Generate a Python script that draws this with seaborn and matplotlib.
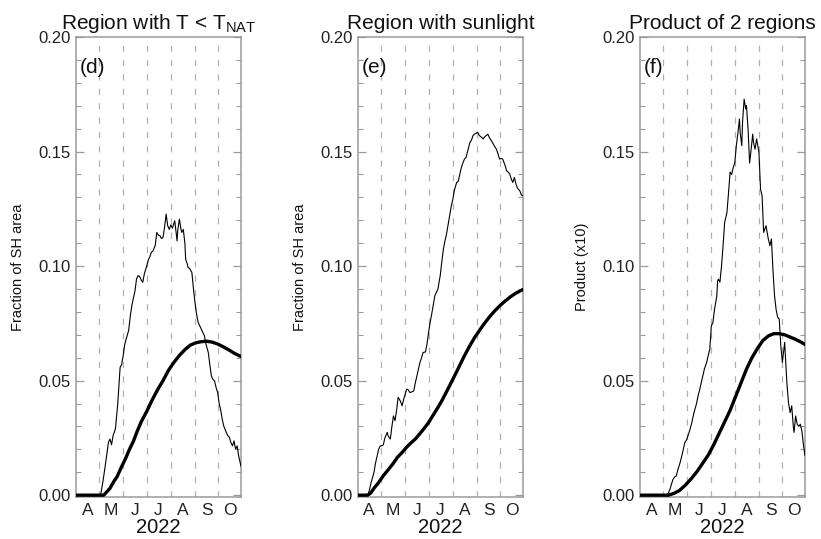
import numpy as np
import pandas as pd
import matplotlib
matplotlib.use("Agg")
import matplotlib.pyplot as plt
from matplotlib.ticker import MultipleLocator
import seaborn as sns

sns.set_theme(style="ticks")
plt.rcParams['font.family'] = ['Liberation Sans', 'DejaVu Sans']
plt.rcParams['mathtext.fontset'] = 'custom'
plt.rcParams['mathtext.rm'] = 'Liberation Sans'
plt.rcParams['mathtext.it'] = 'Liberation Sans'

# day of year (2022) for month boundaries and mid-month labels
month_starts = [121, 152, 182, 213, 244, 274]
month_mids = [106, 136, 167, 197, 228, 259, 289]
month_labels = ["A", "M", "J", "J", "A", "S", "O"]

# (d) region with T < T_NAT : daily 2022 (thin) and climatology (thick)
d_thin_day = [92, 100, 110, 120, 123, 126, 129, 131, 133, 135, 137, 139, 142, 145, 148, 150, 152, 154,
              157, 159, 161, 163, 165, 167, 169, 171, 173, 175, 177, 179, 182, 184, 186, 188, 190, 193,
              195, 197, 199, 201, 203, 205, 207, 209, 211, 213, 215, 218, 220, 221, 222, 224, 226, 227,
              229, 231, 232, 234, 235, 237, 240, 242, 244, 246, 248, 250, 252, 254, 256, 258, 261, 263,
              265, 267, 269, 271, 273, 275, 277, 279, 281, 284, 286, 288, 290, 292, 294, 296, 298, 300, 303]
d_thin = [0, 0, 0, 0, 0, 0.006, 0.013, 0.018, 0.023, 0.0245, 0.022, 0.026, 0.029, 0.040, 0.0558, 0.057,
          0.061, 0.066, 0.0696, 0.072, 0.078, 0.0827, 0.086, 0.089, 0.0943, 0.0958, 0.0955, 0.094, 0.0929,
          0.0965, 0.100, 0.1025, 0.104, 0.106, 0.1065, 0.109, 0.1147, 0.1135, 0.1133, 0.112, 0.1125, 0.117,
          0.1227, 0.1176, 0.116, 0.118, 0.1165, 0.1198, 0.114, 0.111, 0.116, 0.1205, 0.116, 0.1147, 0.116,
          0.110, 0.103, 0.101, 0.0994, 0.099, 0.0972, 0.090, 0.0841, 0.079, 0.0754, 0.074, 0.0725, 0.071,
          0.0696, 0.066, 0.0623, 0.057, 0.052, 0.0505, 0.0499, 0.047, 0.0448, 0.040, 0.037, 0.033, 0.030,
          0.0275, 0.026, 0.0253, 0.023, 0.0215, 0.0237, 0.020, 0.0215, 0.017, 0.0125]
d_clim_day = [92, 120, 127, 131, 135, 140, 144, 150, 155, 160, 165, 170, 175, 182, 189, 196, 203, 210,
              217, 224, 231, 238, 245, 252, 259, 266, 273, 280, 287, 294, 303]
d_clim = [0, 0, 0, 0.0015, 0.003, 0.006, 0.008, 0.0125, 0.016, 0.020, 0.0235, 0.028, 0.032, 0.0365,
          0.0415, 0.046, 0.050, 0.0545, 0.058, 0.061, 0.0635, 0.0655, 0.0665, 0.067, 0.0672, 0.0668,
          0.066, 0.0648, 0.0635, 0.062, 0.0605]

# (e) region with sunlight
e_thin_day = [92, 100, 104, 106, 108, 112, 114, 116, 118, 120, 122, 124, 126, 129, 130, 133, 135, 137,
              139, 141, 143, 146, 148, 151, 154, 156, 158, 160, 163, 165, 167, 169, 171, 173, 175, 178,
              180, 182, 184, 186, 188, 190, 192, 194, 197, 199, 201, 203, 205, 207, 209, 211, 213, 215,
              218, 220, 222, 224, 226, 228, 230, 232, 235, 237, 239, 241, 243, 245, 247, 250, 252, 254,
              256, 258, 260, 262, 265, 267, 269, 271, 273, 275, 277, 280, 282, 284, 286, 288, 290, 292,
              294, 296, 299, 301, 303]
e_thin = [0, 0, 0, 0.002, 0.005, 0.0099, 0.014, 0.017, 0.020, 0.0215, 0.0215, 0.022, 0.025, 0.0274,
          0.026, 0.0245, 0.030, 0.0346, 0.0325, 0.037, 0.0427, 0.041, 0.039, 0.043, 0.0463, 0.046,
          0.0448, 0.045, 0.0455, 0.049, 0.052, 0.055, 0.058, 0.060, 0.0623, 0.0625, 0.066, 0.071, 0.0754,
          0.079, 0.083, 0.087, 0.0885, 0.090, 0.096, 0.102, 0.1074, 0.111, 0.114, 0.118, 0.122, 0.126,
          0.129, 0.133, 0.1365, 0.137, 0.140, 0.143, 0.145, 0.1467, 0.1474, 0.150, 0.154, 0.155, 0.157,
          0.1576, 0.158, 0.1584, 0.157, 0.1562, 0.1555, 0.1565, 0.157, 0.1576, 0.156, 0.155, 0.1533,
          0.152, 0.151, 0.149, 0.1467, 0.147, 0.1467, 0.144, 0.1416, 0.141, 0.1402, 0.138, 0.1365, 0.1387,
          0.1358, 0.134, 0.1328, 0.131, 0.1307]
e_clim_day = [92, 100, 104, 108, 112, 118, 124, 131, 137, 142, 148, 154, 160, 165, 170, 176, 182, 188,
              194, 199, 206, 213, 220, 227, 234, 241, 247, 253, 260, 267, 274, 280, 287, 294, 303]
e_clim = [0, 0, 0, 0.001, 0.003, 0.0055, 0.0085, 0.0114, 0.014, 0.0165, 0.0186, 0.021, 0.023, 0.0245,
          0.0265, 0.029, 0.0317, 0.035, 0.0383, 0.0412, 0.0458, 0.0505, 0.0553, 0.0602, 0.0647, 0.0688,
          0.0718, 0.0747, 0.0778, 0.0805, 0.0829, 0.0847, 0.0866, 0.0882, 0.0898]

# (f) product of the two regions (x10)
f_thin_day = [92, 120, 126, 128, 130, 132, 134, 136, 138, 140, 143, 145, 147, 149, 151, 153, 155, 158,
              160, 162, 164, 166, 168, 170, 172, 174, 177, 179, 181, 183, 185, 187, 190, 191, 192, 194,
              196, 198, 200, 203, 205, 207, 209, 211, 213, 215, 217, 219, 220, 222, 223, 225, 227, 228,
              230, 232, 234, 236, 237, 239, 241, 244, 246, 248, 250, 253, 256, 258, 260, 262, 264, 266,
              268, 270, 272, 274, 277, 278, 280, 282, 284, 286, 288, 289, 291, 293, 295, 297, 299, 301, 303]
f_thin = [0, 0, 0, 0.001, 0.0026, 0.005, 0.007, 0.008, 0.0084, 0.011, 0.0143, 0.017, 0.020, 0.023,
          0.024, 0.0259, 0.028, 0.0317, 0.035, 0.0376, 0.040, 0.0434, 0.046, 0.049, 0.052, 0.055, 0.058,
          0.061, 0.0638, 0.0739, 0.0754, 0.081, 0.087, 0.0935, 0.0943, 0.093, 0.100, 0.1089, 0.119,
          0.1234, 0.132, 0.141, 0.140, 0.143, 0.145, 0.1526, 0.158, 0.1642, 0.158, 0.1526, 0.163, 0.1729,
          0.1686, 0.170, 0.160, 0.145, 0.151, 0.1576, 0.154, 0.151, 0.1555, 0.1496, 0.1336, 0.1307,
          0.1147, 0.1176, 0.1118, 0.1089, 0.1118, 0.098, 0.087, 0.081, 0.0776, 0.0769, 0.0652, 0.058,
          0.0667, 0.060, 0.048, 0.040, 0.036, 0.039, 0.030, 0.0274, 0.0346, 0.031, 0.030, 0.031, 0.028,
          0.022, 0.0172]
f_clim_day = [92, 128, 135, 142, 150, 158, 165, 172, 179, 186, 193, 200, 207, 214, 221, 228, 235, 242,
              249, 256, 263, 270, 277, 284, 291, 298, 303]
f_clim = [0, 0, 0.0008, 0.002, 0.0045, 0.0075, 0.0105, 0.014, 0.0175, 0.022, 0.027, 0.032, 0.037,
          0.043, 0.049, 0.055, 0.060, 0.064, 0.0675, 0.0695, 0.0705, 0.0705, 0.070, 0.069, 0.068, 0.0668,
          0.0658]

panels = [
    ("Region with T < T$_{\\mathrm{NAT}}$", "(d)", "Fraction of SH area", d_thin_day, d_thin, d_clim_day, d_clim),
    ("Region with sunlight", "(e)", "Fraction of SH area", e_thin_day, e_thin, e_clim_day, e_clim),
    ("Product of 2 regions", "(f)", "Product (x10)", f_thin_day, f_thin, f_clim_day, f_clim),
]
lefts = [0.0926, 0.436, 0.7795]

fig = plt.figure(figsize=(8.21, 5.39), dpi=100)
spine_col = "#9a9a9a"

for left, (title, tag, ylab, tx, ty, cx, cy) in zip(lefts, panels):
    ax = fig.add_axes([left, 0.0779, 0.201, 0.8535])
    for m in month_starts:
        ax.axvline(m, color="#b0b0b0", lw=0.9, dashes=(5, 6.5), zorder=1)
    sns.lineplot(x=tx, y=ty, ax=ax, color="black", lw=0.8, estimator=None, zorder=3)
    sns.lineplot(x=cx, y=cy, ax=ax, color="black", lw=2.4, estimator=None, zorder=4)
    ax.set_xlim(91.5, 303)
    ax.set_ylim(-0.0008, 0.2)
    ax.set_xticks(month_mids)
    ax.set_xticklabels(month_labels)
    ax.yaxis.set_major_locator(MultipleLocator(0.05))
    ax.yaxis.set_minor_locator(MultipleLocator(0.01))
    ax.yaxis.set_major_formatter(plt.FormatStrFormatter("%.2f"))
    ax.tick_params(axis="x", length=0, pad=4, labelsize=12.5, colors="#222222")
    ax.tick_params(axis="y", which="major", direction="in", length=6, width=0.9,
                   left=True, right=True, pad=4, labelsize=12, color=spine_col, labelcolor="#222222")
    ax.tick_params(axis="y", which="minor", direction="in", length=3.5, width=0.8,
                   left=True, right=True, color=spine_col)
    for s in ax.spines.values():
        s.set_color(spine_col)
        s.set_linewidth(1.1)
    ax.set_title(title, fontsize=15, pad=6, color="#111111")
    ax.set_xlabel("2022", fontsize=14.5, labelpad=0.5, color="#111111")
    ax.set_ylabel(ylab, fontsize=10.5, color="#111111")
    ax.yaxis.set_label_coords(-0.31, 0.5)
    ax.text(0.025, 0.955, tag, transform=ax.transAxes, ha="left", va="top", fontsize=15, color="#111111")

fig.savefig("out.png", dpi=100)
